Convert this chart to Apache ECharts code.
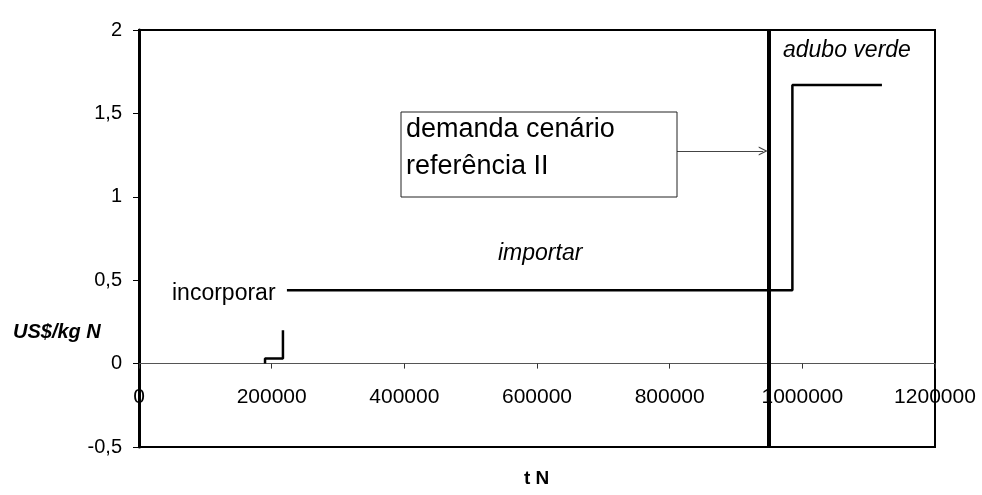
<!DOCTYPE html>
<html>
<head>
<meta charset="utf-8">
<script src="https://cdn.jsdelivr.net/npm/echarts@6/dist/echarts.min.js"></script>
<style>
html,body{margin:0;padding:0;background:#fff;}
#chart{width:982px;height:495px;}
</style>
</head>
<body>
<div id="chart"></div>
<script>
// ---- data ----
const incorporarX = [190000, 190000, 217000, 217000];
const incorporarY = [0, 0.03, 0.03, 0.2];
const supplyX = [223000, 985000, 985000, 1120000];
const supplyY = [0.44, 0.44, 1.67, 1.67];
const demandX = 950000;
const arrowX = [810000, 941000];
const arrowY = [1.275, 1.275];
const yTicks = [-0.5, 0, 0.5, 1, 1.5, 2];
const xTicks = [0, 200000, 400000, 600000, 800000, 1000000, 1200000];
const texts = {
  box1: 'demanda cenário',
  box2: 'referência II',
  importar: 'importar',
  adubo: 'adubo verde',
  incorporar: 'incorporar',
  yName: 'US$/kg N',
  xName: 't N'
};

const zip = (xs, ys) => xs.map((x, i) => [x, ys[i]]);
const FONT = 'Liberation Sans, Arial, sans-serif';

const GRID = {left: 139, right: 47, top: 30, bottom: 48};
const plotH = 495 - GRID.top - GRID.bottom;
const yMin = yTicks[0], yMax = yTicks[yTicks.length - 1];
// shift x axis up so it sits on y = 0
const xAxisOffset = -plotH * (0 - yMin) / (yMax - yMin);

const chart = echarts.init(document.getElementById('chart'));
chart.setOption({
  animation: false,
  backgroundColor: '#fff',
  grid: Object.assign({show: true, borderColor: '#000', borderWidth: 2,
                       backgroundColor: 'transparent'}, GRID),
  xAxis: {
    type: 'value', position: 'bottom', offset: xAxisOffset,
    min: xTicks[0], max: xTicks[xTicks.length - 1], interval: xTicks[1] - xTicks[0],
    axisLine: {show: true, onZero: false, lineStyle: {color: '#555', width: 1}},
    axisTick: {show: true, length: 5, lineStyle: {color: '#333'}},
    axisLabel: {color: '#000', fontFamily: FONT, fontSize: 21, margin: 23,
                formatter: v => String(v)},
    splitLine: {show: false}
  },
  yAxis: {
    type: 'value',
    min: yMin, max: yMax, interval: 0.5,
    axisLine: {show: true, onZero: false, lineStyle: {color: '#000', width: 3}},
    axisTick: {show: true, length: 6, lineStyle: {color: '#000'}},
    axisLabel: {color: '#000', fontFamily: FONT, fontSize: 20, margin: 17,
                formatter: v => String(v).replace('.', ',')},
    splitLine: {show: false}
  },
  series: [
    {
      type: 'line', name: 'incorporar', data: zip(incorporarX, incorporarY),
      symbol: 'none', lineStyle: {color: '#000', width: 2.5}
    },
    {
      type: 'line', name: 'oferta', data: zip(supplyX, supplyY),
      symbol: 'none', lineStyle: {color: '#000', width: 2.5},
      markLine: {
        silent: true, animation: false,
        label: {show: false},
        data: [
          [{coord: [demandX, yMin], symbol: 'none', lineStyle: {color: '#000', width: 4, type: 'solid'}},
           {coord: [demandX, yMax], symbol: 'none'}],
          [{coord: [arrowX[0], arrowY[0]], symbol: 'none', lineStyle: {color: '#444', width: 1, type: 'solid'}},
           {coord: [arrowX[1], arrowY[1]], symbol: 'path://M0,10 L5,0 L10,10 L8.6,10 L5,2.8 L1.4,10 Z', symbolSize: [9, 9]}]
        ]
      }
    }
  ],
  graphic: [
    {type: 'rect', shape: {x: 401, y: 112, width: 276, height: 85},
     style: {fill: '#fff', stroke: '#222', lineWidth: 1}, z: 100},
    {type: 'text', left: 406, top: 116, z: 101,
     style: {text: texts.box1, font: '27px ' + FONT, fill: '#000'}},
    {type: 'text', left: 406, top: 153, z: 101,
     style: {text: texts.box2, font: '27px ' + FONT, fill: '#000'}},
    {type: 'text', left: 498, top: 242, z: 101,
     style: {text: texts.importar, font: 'italic 23px ' + FONT, fill: '#000'}},
    {type: 'text', left: 783, top: 39, z: 101,
     style: {text: texts.adubo, font: 'italic 23px ' + FONT, fill: '#000'}},
    {type: 'text', left: 172, top: 282, z: 101,
     style: {text: texts.incorporar, font: '23px ' + FONT, fill: '#000'}},
    {type: 'text', left: 13, top: 322, z: 101,
     style: {text: texts.yName, font: 'italic bold 20px ' + FONT, fill: '#000'}},
    {type: 'text', left: 524, top: 469, z: 101,
     style: {text: texts.xName, font: 'bold 19px ' + FONT, fill: '#000'}}
  ]
});
</script>
</body>
</html>
